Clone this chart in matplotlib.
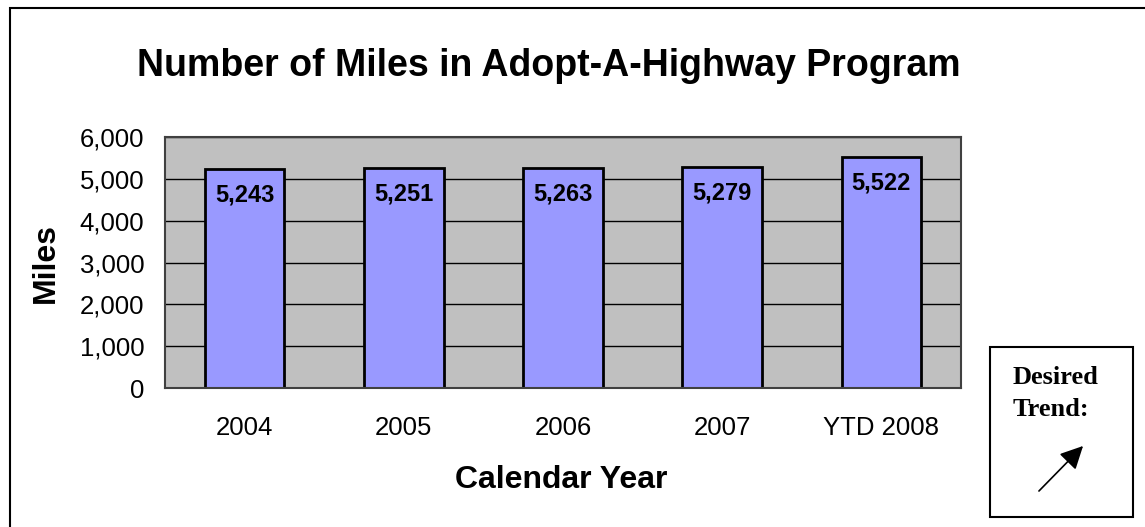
import matplotlib.pyplot as plt
from matplotlib.patches import Rectangle
from matplotlib.ticker import FuncFormatter

years = ['2004', '2005', '2006', '2007', 'YTD 2008']
miles = [5243, 5251, 5263, 5279, 5522]


def main():
    plt.rcParams['font.family'] = ['Liberation Sans', 'DejaVu Sans']

    fig = plt.figure(figsize=(11.45, 5.27), dpi=100)
    ax = fig.add_axes([165 / 1145, 1 - 388 / 527, 796 / 1145, 251 / 527])

    ax.set_facecolor('#c0c0c0')
    ax.set_axisbelow(True)
    ax.yaxis.grid(True, color='black', linewidth=1)

    x = range(len(years))
    bars = ax.bar(x, miles, width=0.5, color='#9999ff', edgecolor='black', linewidth=2)

    for b, v in zip(bars, miles):
        ax.annotate(f'{v:,}', (b.get_x() + b.get_width() / 2, v),
                    xytext=(0, -10.5), textcoords='offset points',
                    ha='center', va='top', fontsize=17, fontweight='bold')

    ax.set_xlim(-0.5, len(years) - 0.5)
    ax.set_ylim(0, 6000)
    ax.set_yticks(range(0, 6001, 1000))
    ax.yaxis.set_major_formatter(FuncFormatter(lambda v, p: f'{int(v):,}'))
    ax.set_xticks(list(x))
    ax.set_xticklabels(years)
    ax.tick_params(axis='both', length=0, labelsize=18.5)
    ax.tick_params(axis='y', pad=15)
    ax.tick_params(axis='x', pad=20)

    for s in ax.spines.values():
        s.set_color('#404040')
        s.set_linewidth(1.5)

    fig.text(46 / 1145, 1 - 263 / 527, 'Miles', rotation=90, ha='center', va='center',
             fontsize=23, fontweight='bold')
    fig.text(561 / 1145, 1 - 480 / 527, 'Calendar Year', ha='center', va='center',
             fontsize=23, fontweight='bold')

    fig.text(549 / 1145, 1 - 66 / 527, 'Number of Miles in Adopt-A-Highway Program',
             ha='center', va='center', fontsize=27, fontweight='bold')

    # outer frame
    fig.add_artist(Rectangle((10 / 1145, -0.01), 1.02, 1 - 8 / 527 + 0.01,
                             transform=fig.transFigure, fill=False,
                             edgecolor='black', linewidth=1.5))

    # desired trend box
    fig.add_artist(Rectangle((990 / 1145, 1 - 517 / 527), 143 / 1145, 170 / 527,
                             transform=fig.transFigure, fill=False,
                             edgecolor='black', linewidth=1.5))
    fig.text(1013 / 1145, 1 - 378 / 527, 'Desired', family='Liberation Serif',
             fontsize=19, fontweight='bold', va='center')
    fig.text(1013 / 1145, 1 - 410 / 527, 'Trend:', family='Liberation Serif',
             fontsize=19, fontweight='bold', va='center')
    fig.add_artist(plt.Annotation('', xy=(1085 / 1145, 1 - 444 / 527),
                                  xytext=(1037 / 1145, 1 - 493 / 527),
                                  xycoords='figure fraction',
                                  arrowprops=dict(arrowstyle='-|>', color='black',
                                                  lw=1.2, mutation_scale=35)))

    fig.savefig('out.png', dpi=100)


if __name__ == "__main__":
    main()
